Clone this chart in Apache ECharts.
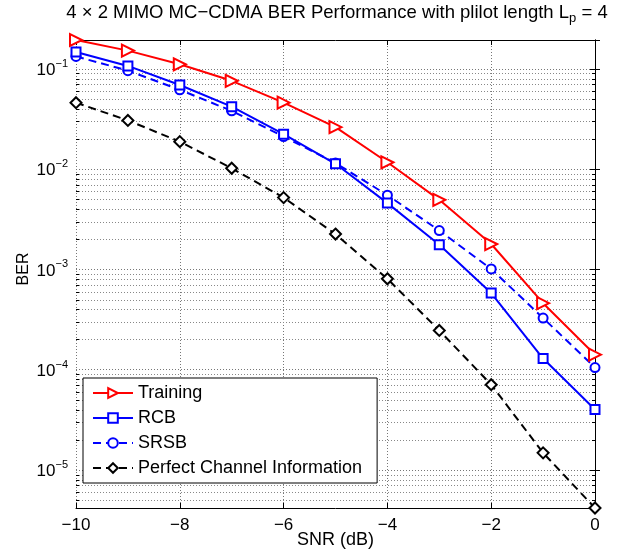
<!DOCTYPE html>
<html>
<head>
<meta charset="utf-8">
<script src="https://cdn.jsdelivr.net/npm/echarts@6/dist/echarts.min.js"></script>
<style>
  html, body { margin: 0; padding: 0; background: #fff; }
  #myChart { width: 620px; height: 556px; }
</style>
</head>
<body>
<div id="myChart"></div>
<script>
// SNR points (dB)
const snr = [-10, -9, -8, -7, -6, -5, -4, -3, -2, -1, 0];
// BER
const training = [0.194, 0.152, 0.111, 0.076, 0.046, 0.0262, 0.0117, 0.00494, 0.00179, 4.6e-4, 1.41e-4];
const rcb = [0.147, 0.107, 0.069, 0.042, 0.0223, 0.0113, 0.00458, 0.00176, 5.8e-4, 1.29e-4, 4.0e-5];
const srsb = [0.133, 0.096, 0.0618, 0.0381, 0.0211, 0.0115, 0.0055, 0.00244, 0.00101, 3.27e-4, 1.05e-4];
const perfect = [0.046, 0.0306, 0.0188, 0.0102, 0.0052, 0.00225, 8.05e-4, 2.46e-4, 7.08e-5, 1.48e-5, 4.17e-6];
const seriesNames = ['Training', 'RCB', 'SRSB', 'Perfect Channel Information'];
const yMin = 4.17e-6;
const yMax = 0.194;

function pairs(ys) {
  return snr.map((x, i) => [x, ys[i]]);
}

// minor log grid lines (2..9 x 10^n) inside the range
const minorLines = [];
for (let n = -6; n <= -1; n++) {
  for (let k = 2; k <= 9; k++) {
    const v = k * Math.pow(10, n);
    if (v > yMin && v < yMax) minorLines.push([-10, v]);
  }
}

function isDecade(v) {
  const e = Math.log10(v);
  return Math.abs(e - Math.round(e)) < 1e-6;
}
const minus = '\u2212';
const font = 'Liberation Sans, Arial, sans-serif';
const gridDash = [1, 2];

const chart = echarts.init(document.getElementById('myChart'));
chart.setOption({
  animation: false,
  title: {
    text: '4 \u00d7 2 MIMO MC' + minus + 'CDMA BER Performance with plilot length L{sub|p} = 4',
    left: 332,
    textAlign: 'center',
    top: -5,
    textStyle: {
      fontFamily: font,
      fontSize: 18.5,
      fontWeight: 'normal',
      color: '#000',
      rich: {
        sub: { fontFamily: font, fontSize: 13, color: '#000', padding: [12, 0, 0, 0] },
      },
    },
  },
  grid: { left: 76, right: 25, top: 40, bottom: 48, containLabel: false, outerBoundsMode: 'none' },
  legend: {
    data: seriesNames,
    orient: 'vertical',
    left: 83,
    top: 378,
    itemWidth: 40,
    itemHeight: 12,
    itemGap: 5,
    padding: [5, 15, 5, 9],
    borderColor: '#000',
    borderWidth: 1,
    backgroundColor: '#fff',
    textStyle: { fontFamily: font, fontSize: 18, color: '#000', lineHeight: 20 },
  },
  xAxis: [
    {
      type: 'value',
      min: -10,
      max: 0,
      interval: 2,
      name: 'SNR (dB)',
      nameLocation: 'middle',
      nameGap: 23,
      nameMoveOverlap: false,
      nameTextStyle: { fontFamily: font, fontSize: 18, color: '#000' },
      axisLine: { lineStyle: { color: '#000', width: 1 } },
      axisTick: { inside: true, length: 5, lineStyle: { color: '#000' } },
      axisLabel: {
        fontFamily: font,
        fontSize: 17,
        color: '#000',
        margin: 9,
        formatter: (v) => (v < 0 ? minus + Math.abs(v) : String(v)),
      },
      splitLine: { show: true, lineStyle: { color: '#777', type: gridDash, width: 1 } },
    },
    {
      type: 'value',
      min: -10,
      max: 0,
      interval: 2,
      position: 'top',
      axisLine: { show: true, onZero: false, lineStyle: { color: '#000', width: 1 } },
      axisTick: { show: true, inside: true, length: 5, lineStyle: { color: '#000' } },
      axisLabel: { show: false },
      splitLine: { show: false },
    },
  ],
  yAxis: [
    {
      type: 'log',
      logBase: 10,
      min: yMin,
      max: yMax,
      name: 'BER',
      nameLocation: 'middle',
      nameGap: 44,
      nameMoveOverlap: false,
      nameTextStyle: { fontFamily: font, fontSize: 16, color: '#000', padding: [0, 0, 0, 10] },
      axisLine: { show: true, lineStyle: { color: '#000', width: 1 } },
      axisTick: { show: true, inside: true, length: 5, lineStyle: { color: '#000' } },
      axisLabel: {
        margin: 8,
        fontFamily: font,
        fontSize: 17,
        color: '#000',
        formatter: (v) => {
          if (!isDecade(v)) return '';
          const e = Math.round(Math.log10(v));
          return '{b|10}{s|' + (e < 0 ? minus + Math.abs(e) : e) + '}';
        },
        rich: {
          b: { fontFamily: font, fontSize: 17, color: '#000', padding: [3, 0, 0, 0] },
          s: { fontFamily: font, fontSize: 11, color: '#000', padding: [0, 0, 10, 0] },
        },
      },
      splitLine: { show: true, lineStyle: { color: '#777', type: gridDash, width: 1 } },
    },
    {
      type: 'log',
      logBase: 10,
      min: yMin,
      max: yMax,
      position: 'right',
      axisLine: { show: true, onZero: false, lineStyle: { color: '#000', width: 1 } },
      axisTick: { show: true, inside: true, length: 5, lineStyle: { color: '#000' } },
      axisLabel: { show: false },
      splitLine: { show: false },
    },
  ],
  series: [
    {
      name: 'grid-minor',
      type: 'custom',
      data: minorLines,
      encode: { x: 0, y: 1 },
      silent: true,
      z: 1,
      clip: true,
      renderItem(params, api) {
        const v = api.value(1);
        const p0 = api.coord([-10, v]);
        const p1 = api.coord([0, v]);
        const y = Math.round(p0[1]) + 0.5;
        return {
          type: 'group',
          children: [
            { type: 'line', shape: { x1: p0[0], y1: y, x2: p1[0], y2: y },
              style: { stroke: '#888', lineWidth: 1, lineDash: gridDash } },
            { type: 'line', shape: { x1: p0[0], y1: y, x2: p0[0] + 3, y2: y },
              style: { stroke: '#000', lineWidth: 1 } },
            { type: 'line', shape: { x1: p1[0] - 3, y1: y, x2: p1[0], y2: y },
              style: { stroke: '#000', lineWidth: 1 } },
          ],
        };
      },
    },
    {
      name: 'Training',
      type: 'line',
      data: pairs(training),
      color: '#ff0000',
      symbol: 'emptyTriangle',
      symbolRotate: -90,
      symbolSize: 12,
      lineStyle: { width: 2, color: '#ff0000' },
      itemStyle: { color: '#ff0000', borderWidth: 2 },
      z: 5,
    },
    {
      name: 'RCB',
      type: 'line',
      data: pairs(rcb),
      color: '#0000ff',
      symbol: 'emptyRect',
      symbolSize: 9,
      lineStyle: { width: 2, color: '#0000ff' },
      itemStyle: { color: '#0000ff', borderWidth: 2 },
      z: 4,
    },
    {
      name: 'SRSB',
      type: 'line',
      data: pairs(srsb),
      color: '#0000ff',
      symbol: 'emptyCircle',
      symbolSize: 9,
      lineStyle: { width: 2, color: '#0000ff', type: [8, 5] },
      itemStyle: { color: '#0000ff', borderWidth: 2 },
      z: 3,
    },
    {
      name: 'Perfect Channel Information',
      type: 'line',
      data: pairs(perfect),
      color: '#000000',
      symbol: 'emptyDiamond',
      symbolSize: 11,
      lineStyle: { width: 2, color: '#000', type: [8, 5] },
      itemStyle: { color: '#000', borderWidth: 2 },
      z: 3,
    },
  ],
});
window.addEventListener('resize', chart.resize);
</script>
</body>
</html>
